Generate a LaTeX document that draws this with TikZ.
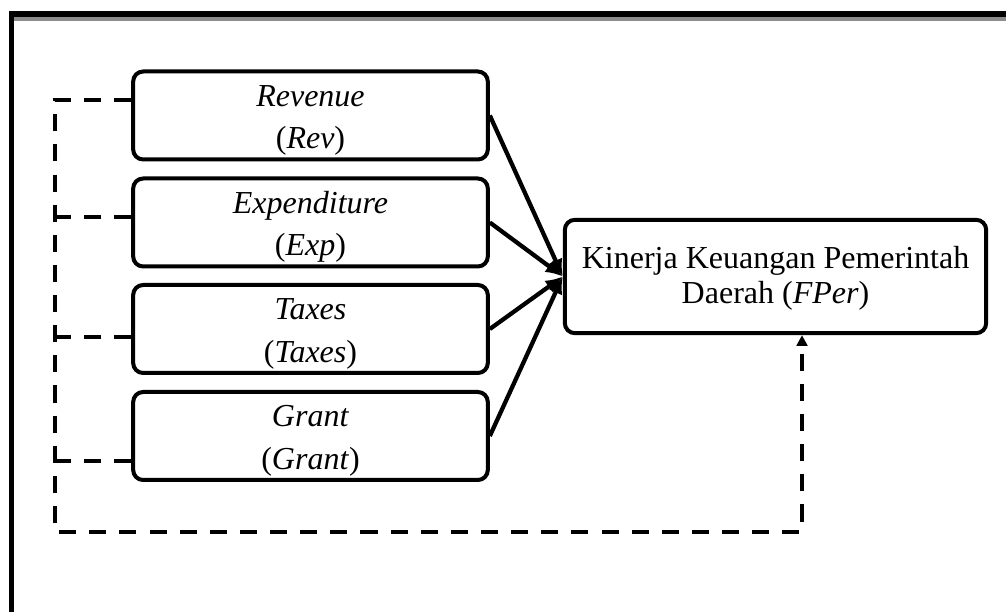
\documentclass[tikz,border=0pt]{standalone}
\usepackage{fontspec}
\setmainfont{Liberation Serif}
\usetikzlibrary{arrows.meta}
\begin{document}
\begin{tikzpicture}[x=0.375pt, y=-0.375pt,
    varbox/.style={draw, line width=1.5pt, rounded corners=3.75pt, minimum width=133pt, minimum height=33pt, inner sep=0pt, align=center, font=\fontsize{12}{16}\selectfont},
    mainbox/.style={draw, line width=1.5pt, rounded corners=3.75pt, minimum width=158pt, minimum height=42.5pt, inner sep=0pt, align=center, font=\fontsize{12}{13}\selectfont},
    link/.style={line width=1.6pt, -{Latex[length=6.5pt,width=5.5pt]}},
    ctrl/.style={line width=1.3pt, dash pattern=on 6.4pt off 4.9pt}]
            \useasboundingbox (0,0) rectangle (1006,612);
            \fill [black!45] (14,16.5) rectangle (1006,21.5);
            \draw [line width=1.9pt] (11.5,612) -- (11.5,14) -- (1006,14);
            \node [varbox] (rev) at (310.5,115.5) {\rule{0pt}{11.5pt}\textit{Revenue}\\(\textit{Rev})};
            \node [varbox] (exp) at (310.5,222.5) {\rule{0pt}{11.5pt}\textit{Expenditure}\\(\textit{Exp})};
            \node [varbox] (tax) at (310.5,329) {\rule{0pt}{11.5pt}\textit{Taxes}\\(\textit{Taxes})};
            \node [varbox] (grant) at (310.5,436) {\rule{0pt}{11.5pt}\textit{Grant}\\(\textit{Grant})};
            \node [mainbox] (fper) at (775.5,276.5) {\rule{0pt}{9.8pt}Kinerja Keuangan Pemerintah\\Daerah (\textit{FPer})};
            \foreach \v in {rev,exp,tax,grant}
                \draw [link] (\v.east) -- (fper.west);
            \coordinate (revL) at ([yshift=5.8pt]rev.west);
            \coordinate (expL) at ([yshift=2pt]exp.west);
            \coordinate (taxL) at ([yshift=-3pt]tax.west);
            \coordinate (grantL) at ([yshift=-9.4pt]grant.west);
            \coordinate (loopL) at (55,532);
            \coordinate (loopR) at (802,532);
            \draw [ctrl, -{Triangle[length=4pt,width=4pt]}] (revL) -| (loopL) -- (loopR) -- (loopR |- fper.south);
            \foreach \v in {expL,taxL,grantL}
                \draw [ctrl] (\v) -- (\v -| loopL);
        \end{tikzpicture}
\end{document}
